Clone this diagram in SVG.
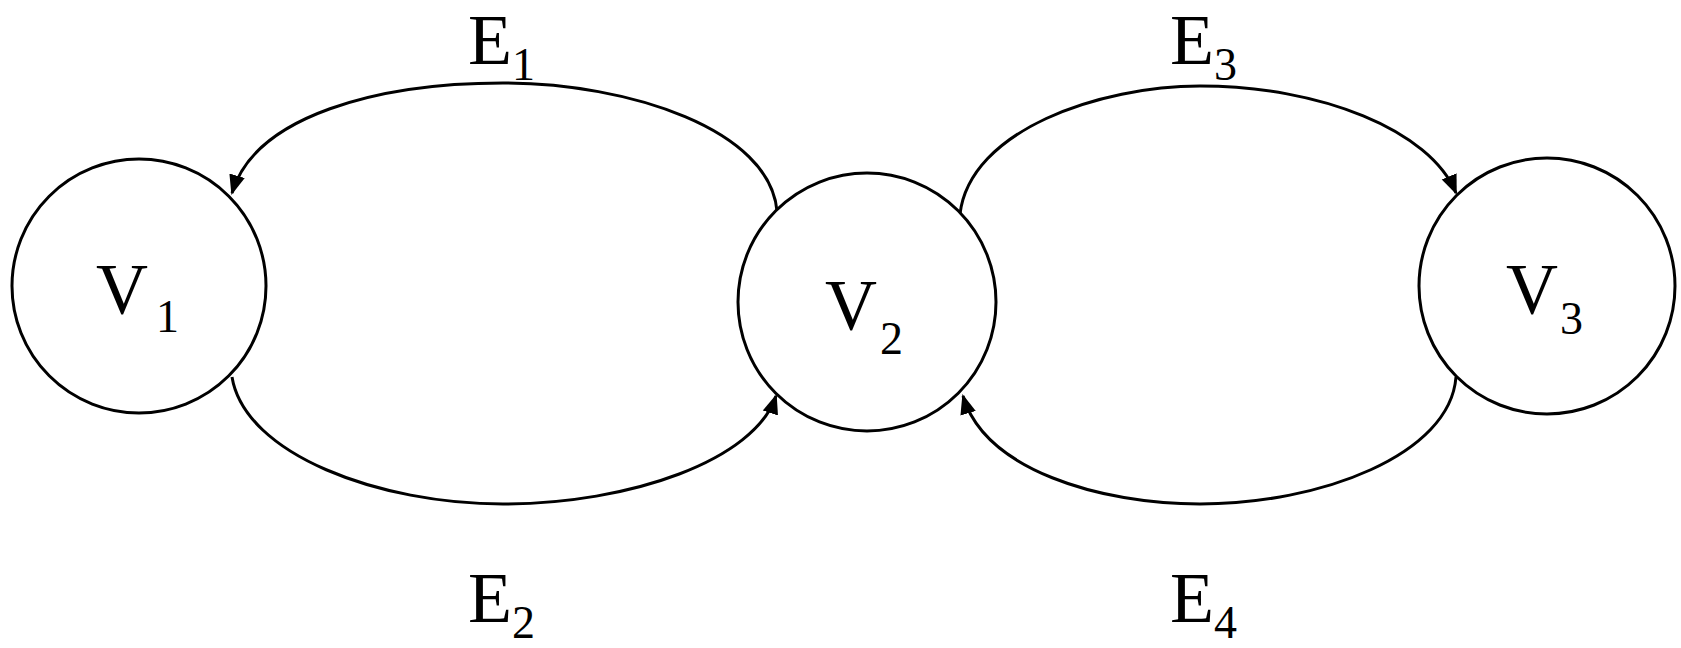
<svg xmlns="http://www.w3.org/2000/svg" width="1681" height="648" viewBox="0 0 1681 648">
<style>
.n{fill:#fff;stroke:#000;stroke-width:3}
.e{fill:none;stroke:#000;stroke-width:3;marker-end:url(#a)}
text{font-family:"Liberation Serif",serif;fill:#000}
.b{font-size:72px}.s{font-size:46px}
</style>
<defs>
<marker id="a" viewBox="0 0 10 10" refX="9" refY="5" markerWidth="20" markerHeight="20" markerUnits="userSpaceOnUse" orient="auto"><path d="M0,1L10,5L0,9z"/></marker></defs>
<rect width="1681" height="648" fill="#fff"/>
<g id="connectors">
<path class="e" d="M777,211 C770,130 630,83 503,83 C380,83 255,115 232,193"/>
<path class="e" d="M232,377 C245,455 380,504 503,504 C630,504 755,460 776,396"/>
<path class="e" d="M960,214 C970,130 1100,86 1200,86 C1320,86 1430,130 1456,193"/>
<path class="e" d="M1456,377 C1450,455 1320,504 1200,504 C1100,504 985,470 963,396"/>
</g>
<g id="V1"><circle class="n" cx="139" cy="286" r="127"/><text x="96" y="313" class="b">V</text><text x="156" y="332" class="s">1</text></g>
<g id="V2"><circle class="n" cx="867" cy="302" r="129"/><text x="825" y="329" class="b">V</text><text x="880" y="354" class="s">2</text></g>
<g id="V3"><circle class="n" cx="1547" cy="286" r="128"/><text x="1506" y="313" class="b">V</text><text x="1560" y="334" class="s">3</text></g>
<g id="labels">
<text x="468" y="64" class="b">E</text><text x="512" y="80" class="s">1</text>
<text x="468" y="622" class="b">E</text><text x="512" y="638" class="s">2</text>
<text x="1170" y="64" class="b">E</text><text x="1214" y="80" class="s">3</text>
<text x="1170" y="622" class="b">E</text><text x="1214" y="638" class="s">4</text>
</g>
</svg>
